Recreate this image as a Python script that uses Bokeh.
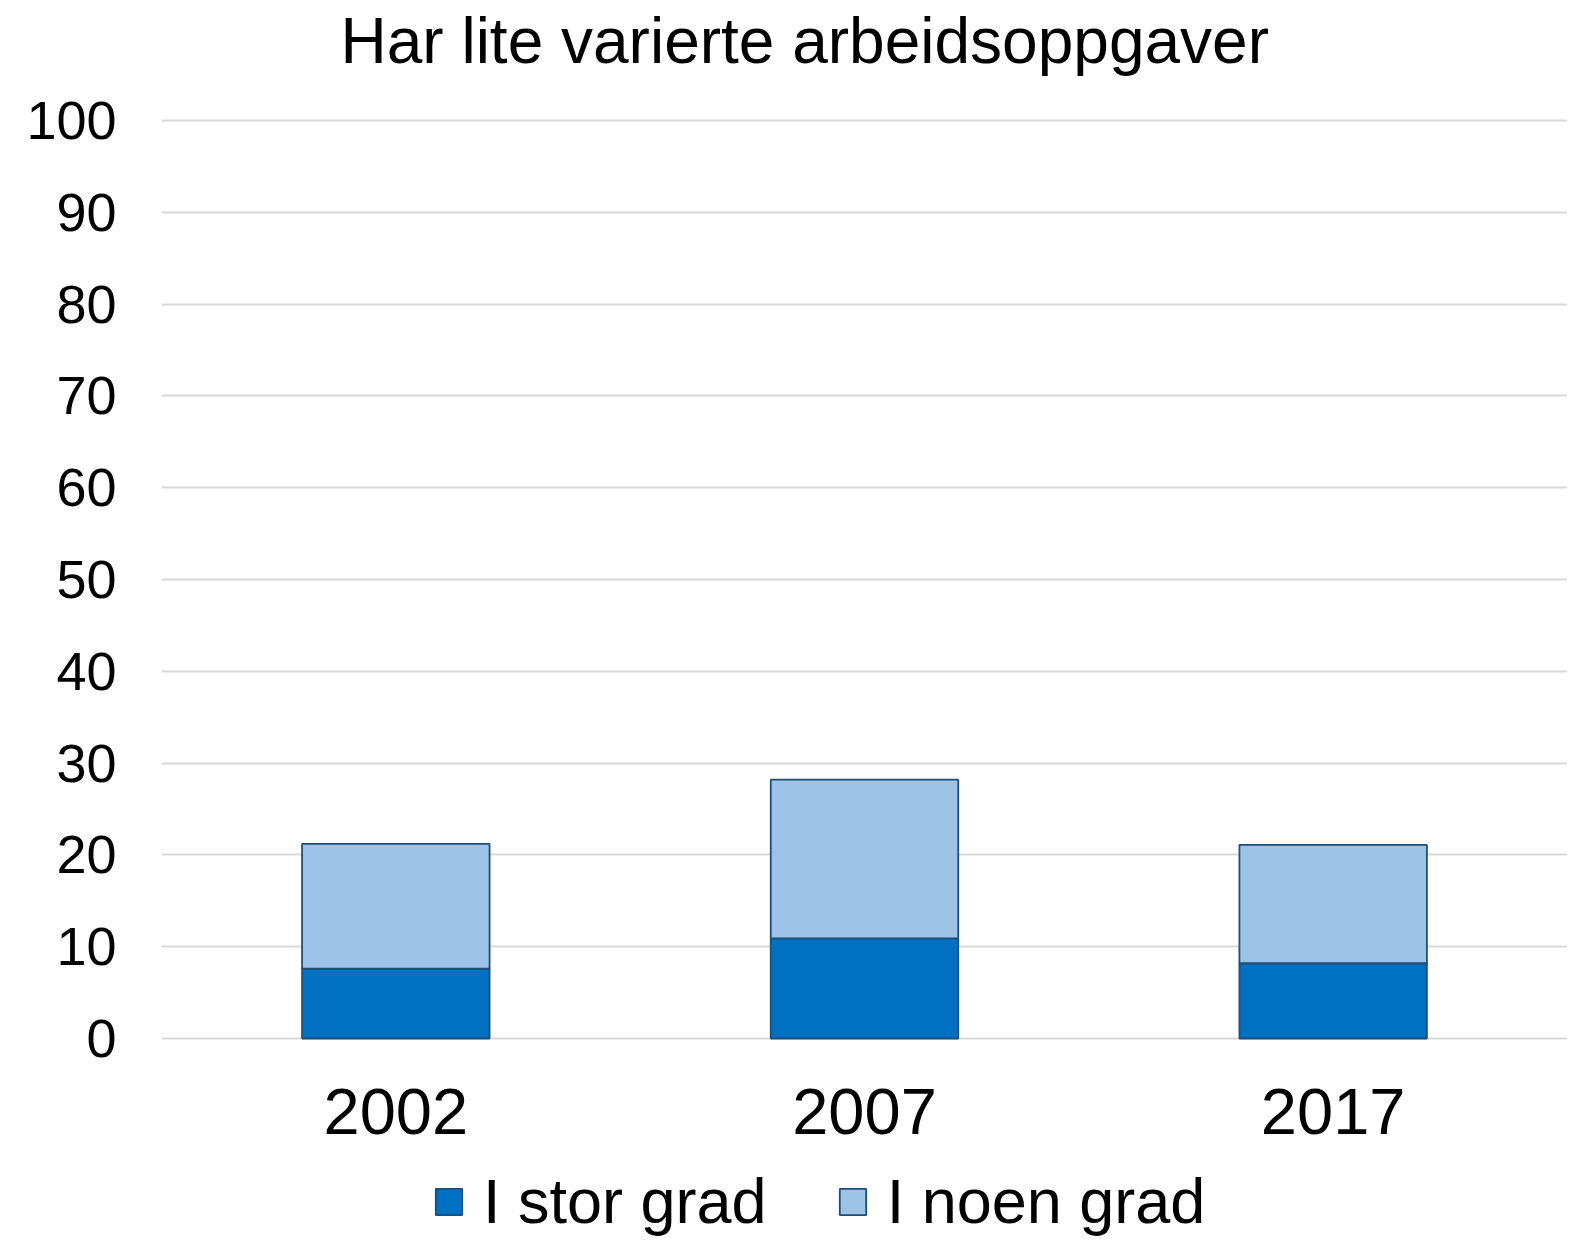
from bokeh.plotting import figure
from bokeh.models import FactorRange, Range1d, Legend, LegendItem, FixedTicker, Label
from bokeh.embed import file_html
from bokeh.resources import INLINE

years = ["2002", "2007", "2017"]
stor_grad = [7.6, 10.9, 8.2]
noen_grad = [13.6, 17.3, 12.9]
y_ticks = [0, 10, 20, 30, 40, 50, 60, 70, 80, 90, 100]
title_text = "Har lite varierte arbeidsoppgaver"
series_names = ["I stor grad", "I noen grad"]

FONT = "Liberation Sans"

data = {"year": years, "stor": stor_grad, "noen": noen_grad}

# The frame covers the whole visible height; values 0-100 occupy the middle,
# the title sits above and the x axis (fixed at y=0) and legend sit below.
p = figure(
    x_range=FactorRange(*years, range_padding=0),
    y_range=Range1d(-22.222, 113.072),
    frame_width=1406, frame_height=1242,
    output_backend="svg", toolbar_location=None,
    min_border_left=161, min_border_right=0,
    min_border_top=0, min_border_bottom=0,
)
p.outline_line_color = None
p.background_fill_color = "white"
p.border_fill_color = "white"

renderers = p.vbar_stack(
    ["stor", "noen"], x="year", width=0.4, source=data,
    fill_color=["#0070C0", "#9DC3E6"], line_color="#1F4E79", line_width=1.8,
)

title = Label(text=title_text, x=179, y=1202, x_units="screen", y_units="screen",
              text_align="left", text_baseline="alphabetic",
              text_font=FONT, text_font_size="64px", text_color="#000000")
p.add_layout(title)

# axes
p.yaxis.ticker = FixedTicker(ticks=y_ticks)
p.yaxis.axis_line_color = None
p.yaxis.major_tick_line_color = None
p.yaxis.minor_tick_line_color = None
p.yaxis.major_tick_out = 0
p.yaxis.major_tick_in = 0
p.yaxis.major_label_standoff = 45
p.yaxis.major_label_text_font = FONT
p.yaxis.major_label_text_font_size = "54px"
p.yaxis.major_label_text_color = "#000000"

p.xaxis.fixed_location = 0
p.xaxis.axis_line_color = None
p.xaxis.major_tick_line_color = None
p.xaxis.minor_tick_line_color = None
p.xaxis.major_tick_out = 0
p.xaxis.major_tick_in = 0
p.xaxis.major_label_standoff = 50
p.xaxis.major_label_text_font = FONT
p.xaxis.major_label_text_font_size = "65px"
p.xaxis.major_label_text_color = "#000000"

p.xgrid.grid_line_color = None
p.ygrid.grid_line_color = "#D9D9D9"
p.ygrid.grid_line_width = 2
p.ygrid.level = "underlay"

legend = Legend(
    items=[LegendItem(label=series_names[0], renderers=[renderers[0]]),
           LegendItem(label=series_names[1], renderers=[renderers[1]])],
    orientation="horizontal",
    location=(271, 5),
    label_text_font=FONT, label_text_font_size="63px", label_text_color="#000000",
    glyph_width=33, glyph_height=33, label_standoff=18, spacing=69,
    padding=0, margin=0, border_line_color=None, background_fill_alpha=0,
)
p.add_layout(legend, "center")

open("out.html", "w").write(file_html(p, INLINE))
